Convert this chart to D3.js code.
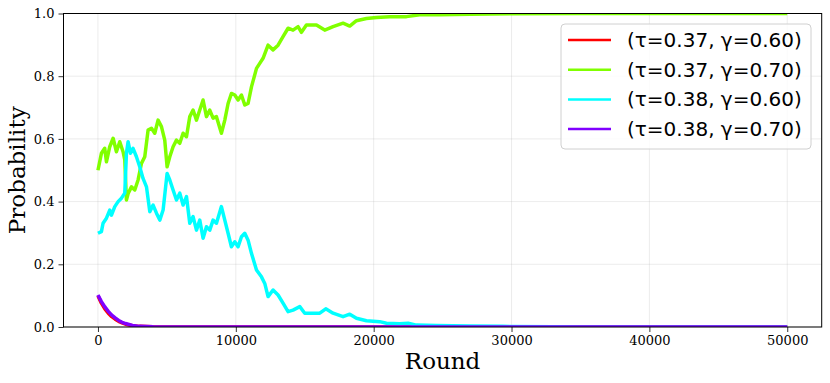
<!DOCTYPE html>
<html>
<head>
<meta charset="utf-8">
<script src="https://cdn.jsdelivr.net/npm/d3@7"></script>
<style>
  body { margin: 0; background: #fff; }
  svg { display: block; }
</style>
</head>
<body>
<div id="chart"></div>
<script>
// series labels and colours
var seriesNames = ["(τ=0.37, γ=0.60)", "(τ=0.37, γ=0.70)", "(τ=0.38, γ=0.60)", "(τ=0.38, γ=0.70)"];
var seriesColors = ["#ff0000", "#80ff00", "#00ffff", "#8000ff"];

// [round, probability]
var redSeries = [[0,0.100],[250,0.076],[500,0.058],[750,0.044],[1000,0.033],[1250,0.025],[1500,0.018],
  [1750,0.013],[2000,0.009],[2500,0.004],[3000,0.002],[4000,0.0005],[5000,0],[50000,0]];

var greenSeries = [[0,0.50],[250,0.554],[490,0.570],[615,0.527],[855,0.575],[1100,0.602],[1340,0.559],
  [1580,0.591],[1820,0.559],[1945,0.533],[2065,0.405],[2190,0.426],[2430,0.447],[2670,0.437],
  [2910,0.469],[3155,0.522],[3395,0.543],[3635,0.628],[3880,0.634],[4120,0.618],[4360,0.660],
  [4605,0.639],[4845,0.596],[5015,0.511],[5210,0.543],[5450,0.575],[5695,0.596],[5935,0.586],
  [6175,0.618],[6420,0.607],[6660,0.671],[6900,0.692],[7145,0.660],[7385,0.692],[7625,0.724],
  [7870,0.671],[8110,0.692],[8350,0.666],[8595,0.671],[8955,0.618],[9200,0.660],[9440,0.713],
  [9680,0.745],[9925,0.740],[10165,0.724],[10410,0.740],[10650,0.708],[10890,0.713],[11135,0.766],
  [11500,0.825],[11735,0.841],[11975,0.857],[12340,0.899],[12700,0.884],[13065,0.899],[13425,0.926],
  [13790,0.953],[14150,0.947],[14515,0.958],[14760,0.940],[15120,0.963],[15850,0.963],[16450,0.947],
  [17055,0.958],[17780,0.969],[18265,0.960],[18750,0.977],[19475,0.984],[20200,0.987],[21165,0.990],
  [22380,0.990],[23340,0.996],[24790,0.996],[27000,0.998],[30000,0.999],[35000,1.0],[50000,1.0]];

var cyanSeries = [[0,0.299],[250,0.304],[370,0.331],[615,0.347],[855,0.373],[980,0.357],[1220,0.384],
  [1460,0.400],[1705,0.411],[1945,0.427],[2065,0.554],[2185,0.591],[2360,0.554],[2545,0.570],
  [2790,0.543],[3030,0.511],[3270,0.474],[3520,0.447],[3760,0.368],[4000,0.389],[4245,0.363],
  [4485,0.341],[4725,0.373],[5015,0.490],[5210,0.469],[5450,0.437],[5695,0.405],[5935,0.427],
  [6175,0.389],[6420,0.416],[6660,0.331],[6900,0.352],[7145,0.309],[7385,0.341],[7625,0.283],
  [7870,0.320],[8110,0.309],[8350,0.341],[8595,0.331],[8955,0.384],[9200,0.341],[9440,0.299],
  [9680,0.256],[9925,0.272],[10165,0.256],[10410,0.288],[10650,0.299],[10890,0.277],[11135,0.235],
  [11500,0.182],[11860,0.160],[12100,0.139],[12340,0.097],[12700,0.118],[13065,0.102],[13425,0.076],
  [13790,0.049],[14150,0.054],[14640,0.065],[15000,0.044],[15605,0.044],[16090,0.044],[16525,0.058],
  [17055,0.044],[17780,0.033],[18265,0.041],[18750,0.028],[19475,0.020],[20440,0.017],[20925,0.012],
  [21890,0.010],[22500,0.012],[23100,0.006],[24550,0.005],[26970,0.003],[29360,0.002],[33000,0.001],
  [35000,0],[50000,0]];

var purpleSeries = [[0,0.102],[250,0.081],[500,0.064],[750,0.050],[1000,0.038],[1250,0.029],[1500,0.021],
  [1750,0.015],[2000,0.011],[2500,0.005],[3000,0.002],[4000,0.0005],[5000,0],[50000,0]];

var xTicks = [0, 10000, 20000, 30000, 40000, 50000];
var yTicks = [0.0, 0.2, 0.4, 0.6, 0.8, 1.0];

var allSeries = [redSeries, greenSeries, cyanSeries, purpleSeries];

var width = 830, height = 383;
var margin = {top: 13.5, right: 8.3, bottom: 56, left: 63.5};

var svg = d3.select("#chart").append("svg")
    .attr("width", width)
    .attr("height", height);

var x = d3.scaleLinear().domain([-2500, 52500]).range([margin.left, width - margin.right]);
var y = d3.scaleLinear().domain([0, 1]).range([height - margin.bottom, margin.top]);

// grid
svg.append("g").selectAll("line.gx")
    .data(xTicks).enter().append("line")
    .attr("x1", function (d) { return x(d); })
    .attr("x2", function (d) { return x(d); })
    .attr("y1", y(0)).attr("y2", y(1))
    .attr("stroke", "#b0b0b0").attr("stroke-opacity", 0.3).attr("stroke-width", 0.8);
svg.append("g").selectAll("line.gy")
    .data(yTicks).enter().append("line")
    .attr("x1", x.range()[0]).attr("x2", x.range()[1])
    .attr("y1", function (d) { return y(d); })
    .attr("y2", function (d) { return y(d); })
    .attr("stroke", "#b0b0b0").attr("stroke-opacity", 0.3).attr("stroke-width", 0.8);

svg.append("clipPath").attr("id", "clip")
    .append("rect")
    .attr("x", margin.left).attr("y", margin.top)
    .attr("width", width - margin.left - margin.right)
    .attr("height", height - margin.top - margin.bottom);

var line = d3.line()
    .x(function (d) { return x(d[0]); })
    .y(function (d) { return y(d[1]); });

svg.append("g").attr("clip-path", "url(#clip)")
    .selectAll("path")
    .data(allSeries).enter().append("path")
    .attr("d", line)
    .attr("fill", "none")
    .attr("stroke", function (d, i) { return seriesColors[i]; })
    .attr("stroke-width", 3.5)
    .attr("stroke-linejoin", "round");

// axes
var xAxis = svg.append("g")
    .attr("transform", "translate(0," + y(0) + ")")
    .call(d3.axisBottom(x).tickValues(xTicks).tickFormat(d3.format("d")).tickSizeOuter(0).tickSize(5).tickPadding(4));
var yAxis = svg.append("g")
    .attr("transform", "translate(" + margin.left + ",0)")
    .call(d3.axisLeft(y).tickValues(yTicks).tickFormat(d3.format(".1f")).tickSizeOuter(0).tickSize(5).tickPadding(4));

[xAxis, yAxis].forEach(function (a) {
    a.select(".domain").remove();
    a.selectAll("line").attr("stroke", "#000").attr("stroke-width", 0.8);
    a.selectAll("text")
        .attr("fill", "#000")
        .attr("font-family", "DejaVu Serif")
        .attr("font-size", "13px");
});

// frame
svg.append("rect")
    .attr("x", margin.left).attr("y", margin.top)
    .attr("width", width - margin.left - margin.right)
    .attr("height", height - margin.top - margin.bottom)
    .attr("fill", "none")
    .attr("stroke", "#000")
    .attr("stroke-width", 1);

// axis labels
svg.append("text")
    .attr("x", (margin.left + width - margin.right) / 2)
    .attr("y", 369)
    .attr("text-anchor", "middle")
    .attr("font-family", "DejaVu Serif")
    .attr("font-size", "23px")
    .text("Round");

svg.append("text")
    .attr("transform", "translate(25," + ((margin.top + height - margin.bottom) / 2) + ") rotate(-90)")
    .attr("text-anchor", "middle")
    .attr("font-family", "DejaVu Serif")
    .attr("font-size", "23px")
    .text("Probability");

// legend
var legend = svg.append("g");
legend.append("rect")
    .attr("x", 561).attr("y", 24)
    .attr("width", 250).attr("height", 125)
    .attr("rx", 4)
    .attr("fill", "#fff").attr("fill-opacity", 0.8)
    .attr("stroke", "#d0d0d0").attr("stroke-width", 1);

var items = legend.selectAll("g.item")
    .data(seriesNames).enter().append("g")
    .attr("transform", function (d, i) { return "translate(0," + (40 + i * 29.7) + ")"; });
items.append("line")
    .attr("x1", 568).attr("x2", 611)
    .attr("stroke", function (d, i) { return seriesColors[i]; })
    .attr("stroke-width", 2.5);
items.append("text")
    .attr("x", 627)
    .attr("dy", "0.35em")
    .attr("font-family", "DejaVu Sans")
    .attr("font-size", "20px")
    .attr("fill", "#000")
    .text(function (d) { return d; });
</script>
</body>
</html>
